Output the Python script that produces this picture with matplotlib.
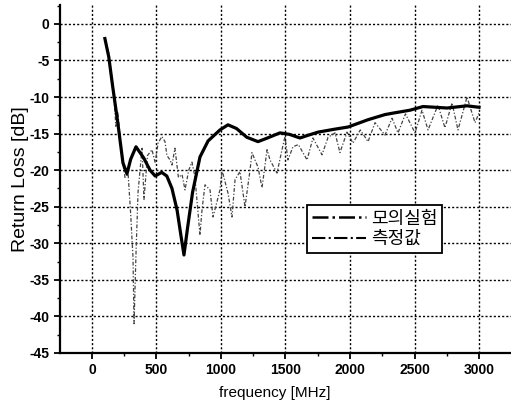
import matplotlib
matplotlib.use("Agg")
import matplotlib.pyplot as plt
from matplotlib.lines import Line2D
from matplotlib.ticker import MultipleLocator

plt.rcParams['font.family'] = ['Liberation Sans', 'Noto Sans CJK KR', 'DejaVu Sans']
plt.rcParams['axes.unicode_minus'] = False

# Simulation (모의실험)
sim_freq = [100, 130, 160, 200, 240, 271, 300, 341, 400, 450, 490, 540, 580, 620,
            660, 690, 713, 740, 780, 837, 900, 992, 1054, 1120, 1200, 1287, 1360,
            1457, 1530, 1612, 1680, 1752, 1880, 1985, 2140, 2271, 2333, 2465, 2566,
            2660, 2752, 2907, 3000]
sim_db = [-2, -4.5, -8.5, -13.5, -19, -20.5, -18.5, -16.8, -18.3, -20, -20.8, -20.3,
          -20.8, -22.5, -25.5, -29, -31.6, -28, -23, -18.2, -16, -14.5, -13.8, -14.3,
          -15.5, -16.1, -15.6, -14.9, -15.1, -15.6, -15.2, -14.8, -14.4, -14.1, -13.1,
          -12.4, -12.2, -11.8, -11.3, -11.4, -11.5, -11.2, -11.4]

# Measurement (측정값)
meas_freq = [100, 130, 150, 170, 185, 200, 230, 256, 280, 300, 318, 326, 341, 357,
             388, 403, 430, 465, 490, 512, 542, 566, 581, 605, 620, 643, 670, 698,
             721, 750, 775, 798, 837, 853, 876, 915, 938, 969, 992, 1008, 1054, 1085,
             1109, 1147, 1186, 1225, 1240, 1287, 1318, 1357, 1380, 1434, 1473, 1496,
             1519, 1558, 1600, 1667, 1713, 1783, 1830, 1884, 1922, 1977, 2023, 2080,
             2140, 2194, 2271, 2326, 2372, 2430, 2504, 2558, 2605, 2682, 2736, 2791,
             2837, 2907, 2969, 3000]
meas_db = [-2, -4, -7.5, -10, -14, -12, -18, -21, -20.5, -26, -32, -41, -31.5, -23,
           -17, -24, -18, -17.2, -19, -16.3, -15.4, -16.1, -18, -18.6, -19.3, -17,
           -21, -20.6, -22.7, -20, -18.9, -20.9, -28.9, -25.4, -22, -22.7, -26.4,
           -24.3, -22.7, -20, -23.1, -26.4, -21.3, -20.2, -25, -20, -17.6, -19.6,
           -22.4, -17.2, -18.6, -20.4, -17.2, -15.4, -18.6, -16.8, -16.5, -18.6,
           -15.6, -17.9, -15.5, -14.9, -17.6, -14.8, -16.3, -14.5, -16.1, -13.5,
           -15.2, -12.9, -14.9, -12.3, -14.9, -11.8, -14.5, -11.1, -14.2, -10.8,
           -14.5, -10, -13.5, -12.2]

labels = ['모의실험', '측정값']
x_ticks = [0, 500, 1000, 1500, 2000, 2500, 3000]
y_ticks = [0, -5, -10, -15, -20, -25, -30, -35, -40, -45]

fig = plt.figure(figsize=(5.11, 4.09), dpi=100)
ax = fig.add_axes([0.1174, 0.137, 0.8826, 0.851])

ax.plot(meas_freq, meas_db, color='#444444', lw=0.9, ls=(0, (3, 1.5, 1, 1.5)), zorder=3)
ax.plot(sim_freq, sim_db, color='black', lw=2.3, zorder=4)

ax.set_xlim(-248, 3248)
ax.set_ylim(-45, 2.6)
ax.set_xticks(x_ticks)
ax.set_yticks(y_ticks)
ax.xaxis.set_minor_locator(MultipleLocator(250))
ax.yaxis.set_minor_locator(MultipleLocator(2.5))
ax.tick_params(which='major', direction='out', length=4, width=1.3, labelsize=10)
ax.tick_params(which='minor', direction='out', length=2.5, width=1)
for lab in ax.get_xticklabels() + ax.get_yticklabels():
    lab.set_fontweight('bold')

ax.set_axisbelow(True)
ax.xaxis.grid(True, which='major', color='black', linestyle=(0, (1.5, 1.5)), linewidth=1.0)
ax.yaxis.grid(True, which='major', color='black', linestyle=(0, (1.5, 1.5)), linewidth=1.0)
ax.spines['top'].set_visible(False)
ax.spines['right'].set_visible(False)
ax.spines['left'].set_linewidth(1.6)
ax.spines['bottom'].set_linewidth(1.6)

ax.set_xlabel('frequency [MHz]', fontsize=11)
ax.xaxis.set_label_coords(0.477, -0.095)
ax.set_ylabel('Return Loss [dB]', fontsize=14)
ax.yaxis.set_label_coords(-0.068, 0.5)

handles = [Line2D([0], [0], color='black', lw=1.8, ls='-.'),
           Line2D([0], [0], color='black', lw=1.5, ls='-.')]
leg = ax.legend(handles, labels, loc='upper left', bbox_to_anchor=(0.548, 0.425),
                prop={'family': ['Noto Sans CJK KR'], 'size': 13},
                frameon=True, fancybox=False, edgecolor='black', framealpha=1,
                handlelength=3.0, borderpad=0.25, labelspacing=0.15, handletextpad=0.3,
                borderaxespad=0)
leg.get_frame().set_linewidth(1.3)

fig.savefig('out.png', dpi=100)
